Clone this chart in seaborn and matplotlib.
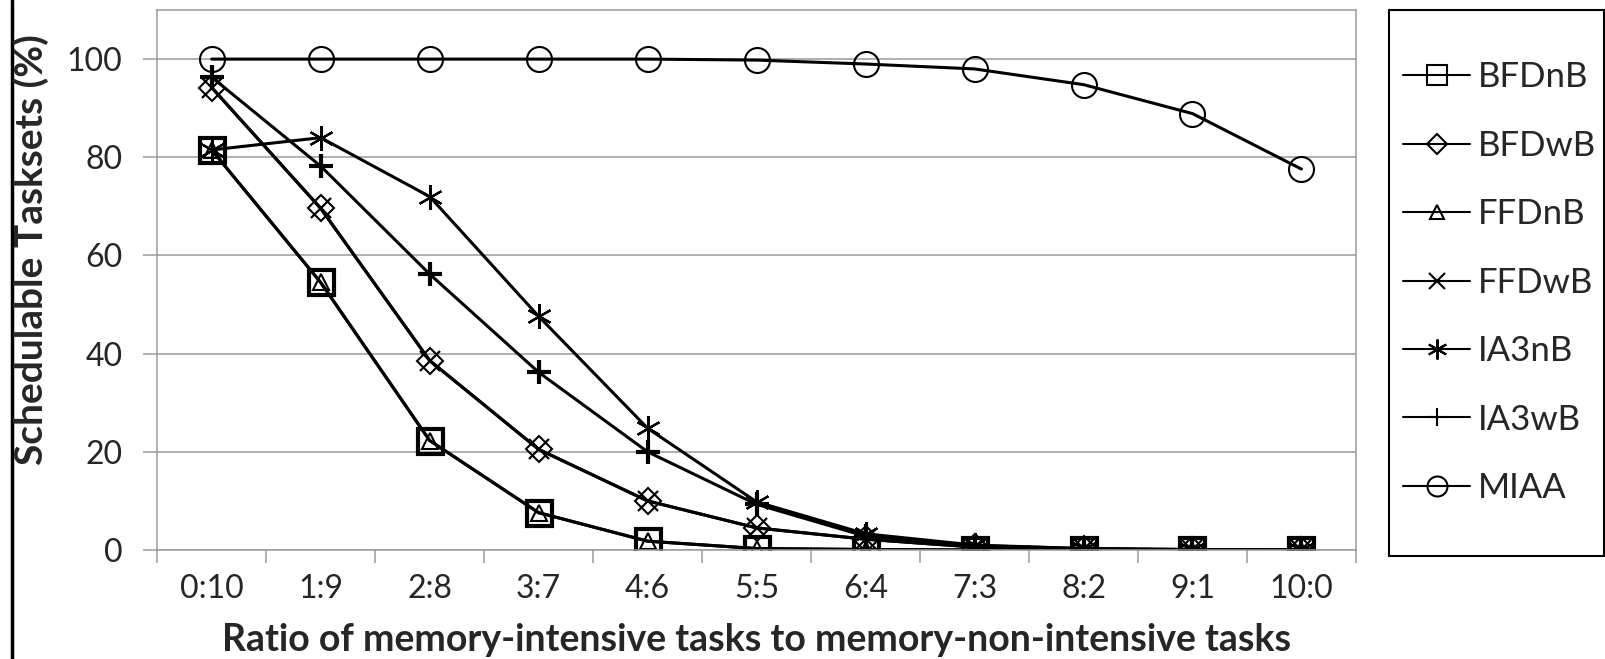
import numpy as np
import matplotlib.pyplot as plt
import seaborn as sns
from matplotlib.lines import Line2D
from matplotlib.patches import Rectangle

# data
ratios = ['0:10', '1:9', '2:8', '3:7', '4:6', '5:5', '6:4', '7:3', '8:2', '9:1', '10:0']
bfdnb = [81.5, 54.5, 22.3, 7.6, 1.8, 0.3, 0.1, 0.0, 0.0, 0.0, 0.0]
bfdwb = [94.2, 69.6, 38.6, 20.5, 10.0, 4.5, 2.2, 0.6, 0.2, 0.0, 0.0]
ffdnb = [81.5, 54.5, 22.3, 7.6, 1.8, 0.3, 0.1, 0.0, 0.0, 0.0, 0.0]
ffdwb = [94.2, 69.6, 38.6, 20.5, 10.0, 4.5, 2.2, 0.6, 0.2, 0.0, 0.0]
ia3nb = [81.5, 84.0, 72.0, 47.6, 24.8, 9.8, 3.3, 1.0, 0.3, 0.1, 0.0]
ia3wb = [96.3, 78.2, 56.2, 36.2, 20.0, 9.3, 2.8, 0.9, 0.3, 0.1, 0.0]
miaa = [100.0, 100.0, 100.0, 100.0, 100.0, 99.8, 99.0, 98.0, 94.8, 88.9, 77.6]

series = [('BFDnB', bfdnb), ('BFDwB', bfdwb), ('FFDnB', ffdnb), ('FFDwB', ffdwb),
          ('IA3nB', ia3nb), ('IA3wB', ia3wb), ('MIAA', miaa)]

styles = {
    'BFDnB': dict(marker='s', ms=18, mew=3),
    'BFDwB': dict(marker='D', ms=13, mew=1.5),
    'FFDnB': dict(marker='^', ms=12, mew=1.5),
    'FFDwB': dict(marker='x', ms=15, mew=1.6),
    'IA3nB': dict(marker=(6, 2, 0), ms=18, mew=1.6),
    'IA3wB': dict(marker='+', ms=17, mew=3),
    'MIAA': dict(marker='o', ms=18, mew=1.5),
}

sns.set_style('white')
plt.rcParams['font.family'] = ['Lato', 'DejaVu Sans']
gray = '#9a9a9a'

fig = plt.figure(figsize=(16.06, 6.59), dpi=100)
ax = fig.add_axes([0.0979, 0.1654, 0.7464, 0.8194])

x = np.arange(len(ratios))
for name, vals in series:
    st = styles[name]
    sns.lineplot(x=x, y=vals, ax=ax, color='black', lw=2.2, errorbar=None,
                 marker=st['marker'], ms=st['ms'], mew=st['mew'],
                 markeredgecolor='black', markerfacecolor='none', label=name)

ax.set_xlim(-0.5, len(ratios) - 0.5)
ax.set_ylim(0, 110)
ax.set_yticks(range(0, 101, 20))
ax.set_xticks(x)
ax.set_xticklabels(ratios)
ax.set_xticks(np.arange(len(ratios) + 1) - 0.5, minor=True)
ax.yaxis.grid(True, color=gray, lw=1.1)
ax.set_axisbelow(True)
for sp in ax.spines.values():
    sp.set_color(gray)
    sp.set_linewidth(1.1)

ax.tick_params(axis='x', which='major', length=0, pad=17, labelsize=23, bottom=True)
ax.tick_params(axis='x', which='minor', length=9.4, color=gray, width=1.1, bottom=True)
ax.tick_params(axis='y', length=10, color=gray, width=1.1, pad=15, labelsize=23, left=True)

ax.set_xlabel('Ratio of memory-intensive tasks to memory-non-intensive tasks',
              fontsize=27, fontweight='bold', labelpad=14)
ax.set_ylabel('')
fig.text(0.0195, 0.622, 'Schedulable Tasksets (%)', rotation=90, fontsize=28,
         fontweight='bold', ha='center', va='center')

ax.get_legend().remove()
handles = ax.get_lines()
leg = fig.legend(handles, [n for n, _ in series], loc='center left',
                 bbox_to_anchor=(0.8736, 0.571), frameon=False,
                 fontsize=25, handlelength=1.93, handletextpad=0.23,
                 labelspacing=1.05, borderpad=0, borderaxespad=0)
for h in leg.legend_handles:
    h.set_markeredgewidth(1.5)
    h.set_markersize(h.get_markersize() * 0.8)
    h.set_linewidth(1.5)

# legend border drawn as its own box, as in the original
fig.add_artist(Rectangle((0.8649, 0.1563), 0.1339, 0.8285, transform=fig.transFigure,
                         fill=False, edgecolor='black', lw=1.5))

# black rule at the left edge of the page
fig.add_artist(Line2D([0.0075, 0.0075], [0, 1], transform=fig.transFigure,
                      color='black', lw=2.5))

fig.savefig('out.png', dpi=100)
